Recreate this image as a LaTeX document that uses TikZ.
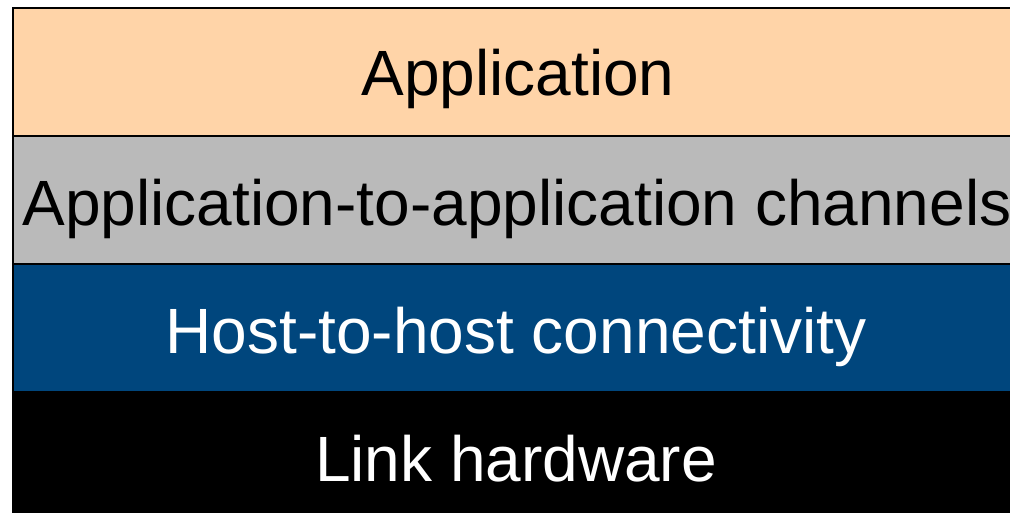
\documentclass[tikz,border=0pt]{standalone}
\usepackage{fontspec}
\setmainfont{Liberation Sans}
\definecolor{peach}{RGB}{255,212,168}
\definecolor{lgrey}{RGB}{186,186,186}
\definecolor{navy}{RGB}{0,70,125}
\begin{document}
\begin{tikzpicture}[x=1pt,y=-1pt,
  layer/.style={draw=black,line width=1.5pt},
  lbl/.style={anchor=base,inner sep=0pt,font=\fontsize{64}{70}\selectfont}]
\useasboundingbox (0,0) rectangle (1010,513);
\begin{scope}
\clip (0,0) rectangle (1010,513);
\fill[peach] (13,8) rectangle (1022,136);
\fill[lgrey] (13,136) rectangle (1022,264);
\fill[navy] (13,264) rectangle (1022,391);
\fill[black] (13,391) rectangle (1022,520);
\draw[layer] (13,136) -- (1022,136);
\draw[layer] (13,264) -- (1022,264);
\draw[line width=2pt] (13,520) -- (13,8) -- (1022,8) -- (1022,520);
\end{scope}
\node[lbl] (app) at (518,96) {Application};
\node[lbl] (chan) at (517,226) {Application-to-application channels};
\node[lbl,text=white] (host) at (516,353) {Host-to-host connectivity};
\node[lbl,text=white] (link) at (516,481) {Link hardware};
\end{tikzpicture}
\end{document}
